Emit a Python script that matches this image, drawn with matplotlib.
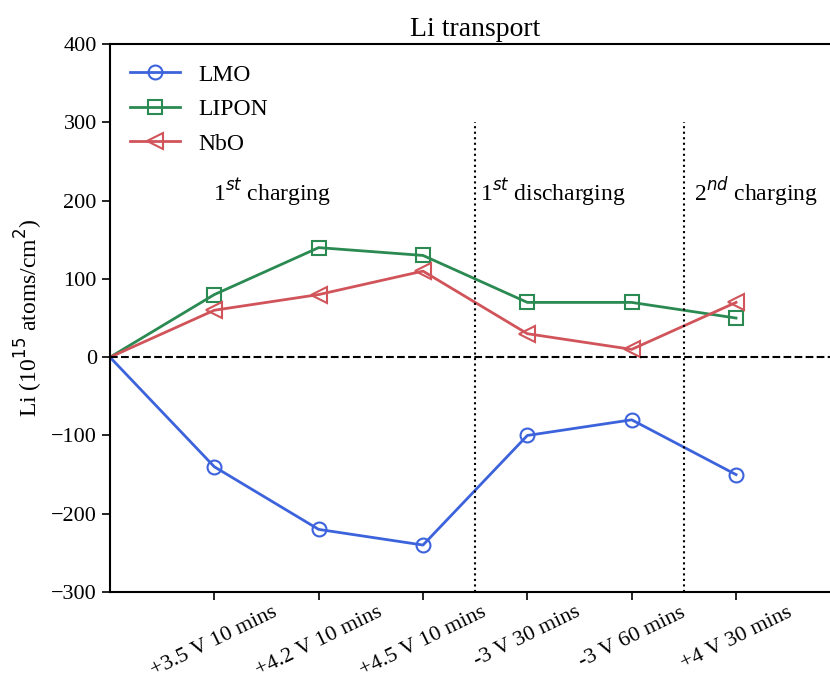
import numpy as np
import matplotlib.pyplot as plt

plt.rcParams['font.family'] = ['Liberation Serif', 'DejaVu Serif']

steps = ['', '+3.5 V 10 mins', '+4.2 V 10 mins', '+4.5 V 10 mins',
         '-3 V 30 mins', '-3 V 60 mins', '+4 V 30 mins']
lmo = [0, -140, -220, -240, -100, -80, -150]
lipon = [0, 80, 140, 130, 70, 70, 50]
nbo = [0, 60, 80, 110, 30, 10, 70]
stages = ['1$^{st}$ charging', '1$^{st}$ discharging', '2$^{nd}$ charging']
stage_x = [1.55, 4.24, 6.19]
stage_bounds = [3.5, 5.5]

x = np.arange(len(steps))

fig = plt.figure(figsize=(8.3, 6.84), dpi=100)
ax = fig.add_axes([0.1325, 0.1345, 0.88, 0.801])

# first point (origin) is drawn without a marker
mk = slice(1, None)
ax.plot(x, lmo, color='#3d63dc', lw=2, marker='o', ms=10, mfc='none', mew=1.5,
        markevery=mk, label='LMO')
ax.plot(x, lipon, color='#2a8a52', lw=2, marker='s', ms=10, mfc='none', mew=1.5,
        markevery=mk, label='LIPON')
ax.plot(x, nbo, color='#d0545a', lw=2, marker='<', ms=11, mfc='none', mew=1.5,
        markevery=mk, label='NbO')

ax.axhline(0, color='black', ls='--', lw=1.5)
for b in stage_bounds:
    ax.vlines(b, -300, 300, color='black', ls=':', lw=1.5)
for s, sx in zip(stages, stage_x):
    ax.text(sx, 211, s, ha='center', va='center', fontsize=17)

ax.set_xlim(0, 7)
ax.set_ylim(-300, 400)
ax.set_xticks(x[1:])
ax.set_xticklabels(steps[1:], rotation=26, ha='center', fontsize=16)
ax.set_yticks(np.arange(-300, 401, 100))
ax.tick_params(axis='y', labelsize=16, length=6, width=1.2)
ax.tick_params(axis='x', length=6, width=1.2, pad=2)
ax.spines['right'].set_visible(False)
for sp in ['left', 'top', 'bottom']:
    ax.spines[sp].set_linewidth(1.5)
ax.set_ylabel('Li (10$^{15}$ atoms/cm$^2$)', fontsize=17)
ax.set_title('Li transport', fontsize=20)
ax.legend(loc='upper left', frameon=False, fontsize=17, handlelength=2.1,
          borderaxespad=0.45, labelspacing=0.55)

fig.savefig('out.png', dpi=100)
